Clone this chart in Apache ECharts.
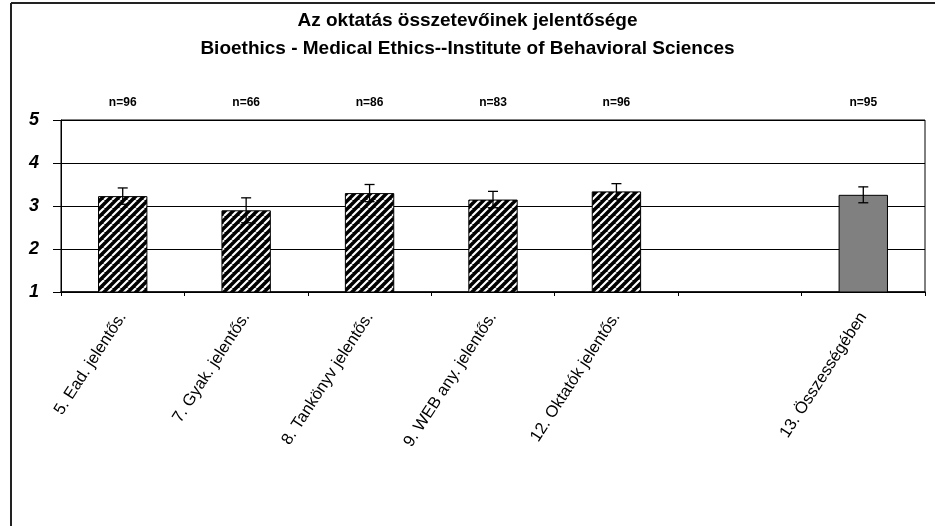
<!DOCTYPE html>
<html><head><meta charset="utf-8">
<script src="https://cdn.jsdelivr.net/npm/echarts@6/dist/echarts.min.js"></script>
<style>html,body{margin:0;padding:0;background:#fff}#c{width:935px;height:526px}</style>
</head><body><div id="c"></div>
<script>
var categories = ['5. Ead. jelentős.', '7. Gyak. jelentős.', '8. Tankönyv jelentős.', '9. WEB any. jelentős.', '12. Oktatók jelentős.', '', '13. Összességében'];
var means = [3.23, 2.90, 3.30, 3.15, 3.34, null, 3.26];
var errors = [0.19, 0.29, 0.20, 0.19, 0.18, null, 0.185];
var nLabels = ['n=96', 'n=66', 'n=86', 'n=83', 'n=96', '', 'n=95'];
var yTicks = [1, 2, 3, 4, 5];
var titleLines = ['Az oktatás összetevőinek jelentősége', 'Bioethics - Medical Ethics--Institute of Behavioral Sciences'];

var FONT = "'Liberation Sans', Arial, sans-serif";

function hatch() {
  var s = 8;
  var cv = document.createElement('canvas');
  cv.width = s; cv.height = s;
  var g = cv.getContext('2d');
  g.fillStyle = '#000'; g.fillRect(0, 0, s, s);
  g.strokeStyle = '#fff'; g.lineWidth = 2.1;
  for (var k = -1; k <= 1; k++) {
    g.beginPath();
    g.moveTo(k * s, s); g.lineTo(k * s + s, 0);
    g.stroke();
  }
  return cv;
}
var pattern = { image: hatch(), repeat: 'repeat' };

var barData = means.map(function (v, i) {
  if (v === null) return null;
  var last = i === means.length - 1;
  return { value: v, itemStyle: { color: last ? '#808080' : pattern, borderColor: '#000', borderWidth: 1 } };
});
var errData = [];
means.forEach(function (v, i) {
  if (v !== null) errData.push([i, v - errors[i], v + errors[i]]);
});

var chart = echarts.init(document.getElementById('c'), null, { renderer: 'canvas' });
chart.setOption({
  animation: false,
  backgroundColor: '#fff',
  title: {
    text: titleLines.join('\n'),
    left: 'center', top: 2,
    textStyle: { fontFamily: FONT, fontSize: 19, fontWeight: 'bold', color: '#000', lineHeight: 28 }
  },
  graphic: [
    { type: 'line', shape: { x1: 11, y1: 3, x2: 935, y2: 3 }, style: { stroke: '#222', lineWidth: 2 } },
    { type: 'line', shape: { x1: 11, y1: 3, x2: 11, y2: 526 }, style: { stroke: '#222', lineWidth: 2 } }
  ],
  grid: { left: 61, right: 10, top: 120, bottom: 234, show: true, borderColor: '#000', borderWidth: 1, backgroundColor: 'transparent' },
  xAxis: [{
    type: 'category', data: categories, position: 'bottom',
    axisLine: { lineStyle: { color: '#000', width: 1.5 } },
    axisTick: { show: true, length: 4, lineStyle: { color: '#000' } },
    axisLabel: { rotate: 57, margin: 22, interval: 0, fontFamily: FONT, fontSize: 16.5, color: '#000' },
    splitLine: { show: false }
  }, {
    type: 'category', data: nLabels, position: 'top',
    axisLine: { show: false }, axisTick: { show: false },
    axisLabel: { interval: 0, margin: 11, fontFamily: FONT, fontSize: 12, fontWeight: 'bold', color: '#000' }
  }],
  yAxis: {
    type: 'value', min: yTicks[0], max: yTicks[yTicks.length - 1], interval: 1,
    axisLine: { show: true, lineStyle: { color: '#000', width: 1 } },
    axisTick: { show: true, length: 8, lineStyle: { color: '#000' } },
    axisLabel: { margin: 22, fontFamily: FONT, fontSize: 18, fontWeight: 'bold', fontStyle: 'italic', color: '#000' },
    splitLine: { show: true, lineStyle: { color: '#000', width: 1 } }
  },
  series: [{
    type: 'bar', data: barData, barWidth: '40%', xAxisIndex: 0
  }, {
    type: 'custom', xAxisIndex: 0, data: errData, z: 10,
    encode: { x: 0, y: [1, 2] },
    renderItem: function (params, api) {
      var x = api.value(0);
      var lo = api.coord([x, api.value(1)]);
      var hi = api.coord([x, api.value(2)]);
      var w = 5;
      var st = { stroke: '#000', lineWidth: 1.3 };
      return {
        type: 'group', children: [
          { type: 'line', shape: { x1: lo[0], y1: lo[1], x2: hi[0], y2: hi[1] }, style: st },
          { type: 'line', shape: { x1: hi[0] - w, y1: hi[1], x2: hi[0] + w, y2: hi[1] }, style: st },
          { type: 'line', shape: { x1: lo[0] - w, y1: lo[1], x2: lo[0] + w, y2: lo[1] }, style: st }
        ]
      };
    }
  }]
});
</script></body></html>
